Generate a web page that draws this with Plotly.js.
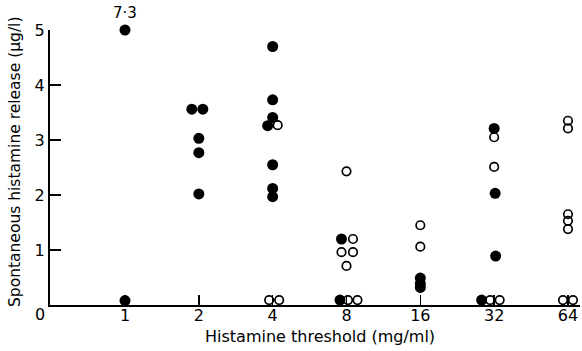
<!DOCTYPE html>
<html><head><meta charset="utf-8">
<script src="https://cdn.plot.ly/plotly-3.0.1.min.js"></script>
<style>html,body{margin:0;padding:0;background:#fff;}</style>
</head><body><div id="chart" style="width:582px;height:351px;"></div>
<script>
// Histamine threshold categories (mg/ml)
const categories = [1, 2, 4, 8, 16, 32, 64];
const tickLabels = ['1', '2', '4', '8', '16', '32', '64'];

// Filled circles
const closedThreshold = [1, 1, 2, 2, 2, 2, 2, 4, 4, 4, 4, 4, 4, 4, 8, 8, 16, 16, 16, 32, 32, 32, 32];
const closedRelease   = [7.3, 0.08, 3.56, 3.56, 3.03, 2.77, 2.02, 4.70, 3.73, 3.41, 3.26, 2.55, 2.12, 1.97, 1.20, 0.09, 0.49, 0.39, 0.32, 3.21, 2.03, 0.89, 0.09];
const closedDodge     = [0, 0, -1.4, 0.8, 0, 0, 0, 0, 0, 0, -1, 0, 0, 0, -1, -1.3, 0, 0, 0, 0, 0.2, 0.3, -2.5];

// Open circles
const openThreshold = [4, 4, 4, 8, 8, 8, 8, 8, 8, 8, 16, 16, 32, 32, 32, 32, 64, 64, 64, 64, 64, 64, 64];
const openRelease   = [3.27, 0.09, 0.09, 2.43, 1.20, 0.96, 0.96, 0.71, 0.09, 0.09, 1.45, 1.06, 3.05, 2.51, 0.09, 0.09, 3.35, 3.21, 1.65, 1.53, 1.38, 0.09, 0.09];
const openDodge     = [1, -0.7, 1.3, 0, 1.3, -1, 1.3, 0, 0.3, 2.2, 0, 0, 0, 0, -0.8, 1.1, 0, 0, 0, 0, 0, -1, 1];

const yMax = 5; // off-scale values are drawn at the top and labelled
const dodgeOctave = 0.0677;

function xs(th, dg) { return th.map((t, i) => t * Math.pow(2, dg[i] * dodgeOctave)); }
const fmt = v => String(v).replace('.', '\u00b7');

const cx = xs(closedThreshold, closedDodge);
const inC = [], inCy = [], offX = [], offY = [], offT = [];
closedRelease.forEach((v, i) => {
  if (v > yMax) { offX.push(cx[i]); offY.push(yMax); offT.push(fmt(v)); }
  else { inC.push(cx[i]); inCy.push(v); }
});

const font = 'DejaVu Sans, sans-serif';
const traces = [
  {x: inC, y: inCy, type: 'scatter', mode: 'markers', cliponaxis: false,
   marker: {symbol: 'circle', size: 11, color: '#000'}},
  {x: offX, y: offY, text: offT, type: 'scatter', mode: 'markers+text', cliponaxis: false,
   textposition: 'top center', textfont: {family: font, size: 15, color: '#000'},
   marker: {symbol: 'circle', size: 11, color: '#000'}},
  {x: xs(openThreshold, openDodge), y: openRelease, type: 'scatter', mode: 'markers', cliponaxis: false,
   marker: {symbol: 'circle-open', size: 8.5, color: '#000', line: {width: 1.7, color: '#000'}}}
];

const layout = {
  width: 582, height: 351,
  margin: {l: 50, r: 2, t: 30, b: 46},
  paper_bgcolor: '#fff', plot_bgcolor: '#fff',
  showlegend: false,
  font: {family: font, color: '#000', size: 15},
  xaxis: {
    type: 'log', range: [-0.3058, 1.8552],
    tickvals: categories, ticktext: tickLabels,
    ticks: 'inside', ticklen: 10, tickwidth: 1.5, tickcolor: '#000',
    ticklabelstandoff: -5,
    showline: true, linewidth: 2, linecolor: '#000',
    showgrid: false, zeroline: false,
    tickfont: {family: font, size: 16, color: '#000'}
  },
  yaxis: {
    range: [0, yMax], tickvals: [1, 2, 3, 4, 5],
    ticks: 'inside', ticklen: 11, tickwidth: 1.5, tickcolor: '#000',
    showline: true, linewidth: 2, linecolor: '#000',
    showgrid: false, zeroline: false,
    tickfont: {family: font, size: 16, color: '#000'}
  },
  annotations: [
    {text: '0', xref: 'paper', yref: 'paper', x: -0.0189, y: -0.035, showarrow: false,
     xanchor: 'center', yanchor: 'middle', font: {family: font, size: 16, color: '#000'}},
    {text: 'Histamine threshold (mg/ml)', xref: 'paper', yref: 'paper', x: 0.509, y: -0.115,
     showarrow: false, xanchor: 'center', yanchor: 'middle', font: {family: font, size: 16, color: '#000'}},
    {text: 'Spontaneous histamine release (\u03bcg/l)', xref: 'paper', yref: 'paper', x: -0.066, y: 0.52,
     textangle: -90, showarrow: false, xanchor: 'center', yanchor: 'middle',
     font: {family: font, size: 15.5, color: '#000'}}
  ]
};

Plotly.newPlot('chart', traces, layout, {displayModeBar: false, staticPlot: true});
</script>
</body></html>
